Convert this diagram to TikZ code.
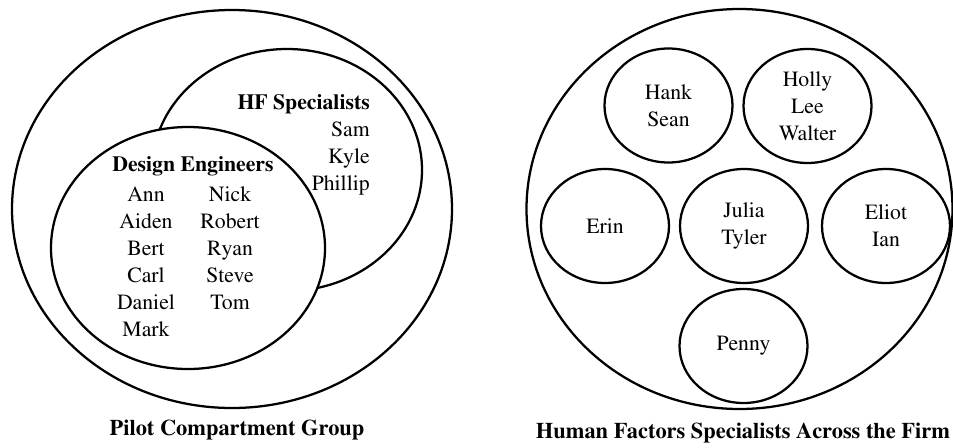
\documentclass[tikz,border=0pt]{standalone}
\usepackage[T1]{fontenc}
\usepackage{times}
\usetikzlibrary{shapes.geometric}
\begin{document}
\begin{tikzpicture}[x=0.75pt,y=-0.75pt,
  ring/.style={draw, line width=1.7pt, ellipse, inner sep=0pt, fill=white,
    font=\fontsize{16.3}{20.3}\selectfont, align=center},
  small/.style={ring, minimum width=96pt, minimum height=85.5pt},
  nm/.style={font=\fontsize{16.3}{20.3}\selectfont, inner sep=0pt},
  ttl/.style={font=\bfseries\fontsize{16.3}{20.3}\selectfont, inner sep=0pt},
  capt/.style={font=\bfseries\fontsize{16.8}{20.3}\selectfont, inner sep=0pt}]
\useasboundingbox (0,0) rectangle (953,447);
% left group
\node[ring, minimum width=330pt, minimum height=298.5pt] (pilot) at (232,209) {};
\node[ring, minimum width=202.5pt, minimum height=181.5pt] (hf) at (287,170) {};
\node[ring, minimum width=205.5pt, minimum height=181.5pt] (de) at (188,248) {};
\node[ttl, anchor=east] (hft) at (370,104) {HF Specialists};
\node[nm, align=right, anchor=north east] (hfn) at (370,121) {Sam\\Kyle\\Phillip};
\node[ttl] (det) at (193,166) {Design Engineers};
\node[nm, align=center, anchor=north] (dec1) at (146,186) {Ann\\Aiden\\Bert\\Carl\\Daniel\\Mark};
\node[nm, align=center, anchor=north] (dec2) at (230,186) {Nick\\Robert\\Ryan\\Steve\\Tom};
\node[capt] (cap1) at (237,430) {Pilot Compartment Group};
% right group
\node[ring, minimum width=319.5pt, minimum height=300pt] (firm) at (739.5,209) {};
\node[small] (hs) at (668.5,105.5) {Hank\\Sean};
\node[small] (hlw) at (807.5,106) {Holly\\Lee\\Walter};
\node[small] (erin) at (605,226) {Erin};
\node[small] (jt) at (744,226) {Julia\\Tyler};
\node[small] (ei) at (886,226) {Eliot\\Ian};
\node[small] (penny) at (743.5,346) {Penny};
\node[capt] (cap2) at (743,433) {Human Factors Specialists Across the Firm};
\end{tikzpicture}
\end{document}
